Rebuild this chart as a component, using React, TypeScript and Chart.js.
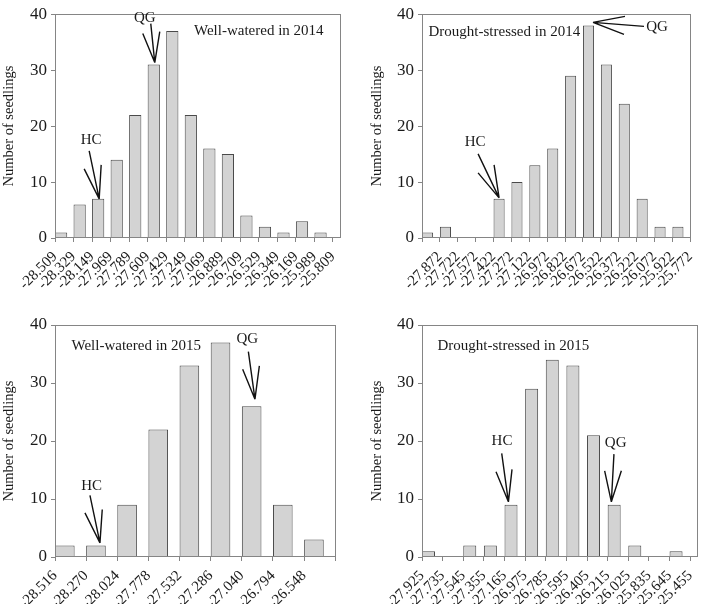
import React, { useEffect, useRef } from "react";
import { Chart, registerables } from "chart.js";

Chart.register(...registerables);

const FONT = "'Liberation Serif', 'Times New Roman', serif";
const TEXT = "#1a1a1a";
const FRAME = "#858585";
const BAR_FILL = "#d3d3d3";
const BAR_EDGE = "#4a4a4a";

// ---------- data ----------
const ww2014Ticks = ["-28.509", "-28.329", "-28.149", "-27.969", "-27.789", "-27.609", "-27.429", "-27.249", "-27.069", "-26.889", "-26.709", "-26.529", "-26.349", "-26.169", "-25.989", "-25.809"];
const ww2014Counts = [1, 6, 7, 14, 22, 31, 37, 22, 16, 15, 4, 2, 1, 3, 1];

const ds2014Ticks = ["-27.872", "-27.722", "-27.572", "-27.422", "-27.272", "-27.122", "-26.972", "-26.822", "-26.672", "-26.522", "-26.372", "-26.222", "-26.072", "-25.922", "-25.772"];
const ds2014Counts = [1, 2, 0, 0, 7, 10, 13, 16, 29, 38, 31, 24, 7, 2, 2];

const ww2015Ticks = ["-28.516", "-28.270", "-28.024", "-27.778", "-27.532", "-27.286", "-27.040", "-26.794", "-26.548"];
const ww2015Counts = [2, 2, 9, 22, 33, 37, 26, 9, 3];

const ds2015Ticks = ["-27.925", "-27.735", "-27.545", "-27.355", "-27.165", "-26.975", "-26.785", "-26.595", "-26.405", "-26.215", "-26.025", "-25.835", "-25.645", "-25.455"];
const ds2015Counts = [1, 0, 2, 2, 9, 29, 34, 33, 21, 9, 2, 0, 1];

const yTicks = [0, 10, 20, 30, 40];
const yTitle = "Number of seedlings";

// ---------- layout / annotation config ----------
type Pt = [number, number];
type Ann = { text: string; bar: number; tip: Pt; tail: Pt; head1: Pt; head2: Pt; label: Pt };
type PanelCfg = {
  title: string;
  titlePos: Pt;
  counts: number[];
  tickLabels: string[];
  labelStart: number;
  xMax: number;
  barPct: number;
  box: { left: number; top: number; width: number; height: number };
  pad: { left: number; right: number; top: number };
  yWidth: number;
  xHeight: number;
  anns: Ann[];
};

const panels: PanelCfg[] = [
  {
    title: "Well-watered in 2014",
    titlePos: [139, 16.5],
    counts: ww2014Counts,
    tickLabels: ww2014Ticks,
    labelStart: 0,
    xMax: 15.38,
    barPct: 0.66,
    box: { left: 0, top: 0, width: 354, height: 302 },
    pad: { left: 0, right: 14, top: 7 },
    yWidth: 55,
    xHeight: 64,
    anns: [
      { text: "HC", bar: 2, tip: [1, 0], tail: [-10, -48], head1: [-15, -30], head2: [2, -34], label: [-8, -59] },
      { text: "QG", bar: 5, tip: [1, -2], tail: [-4, -39], head1: [-12, -29], head2: [5, -31], label: [-10, -44] },
    ],
  },
  {
    title: "Drought-stressed in 2014",
    titlePos: [6.5, 18],
    counts: ds2014Counts,
    tickLabels: ds2014Ticks,
    labelStart: 1,
    xMax: 15,
    barPct: 0.62,
    box: { left: 354, top: 0, width: 355, height: 302 },
    pad: { left: 14, right: 6, top: 7 },
    yWidth: 54,
    xHeight: 64,
    anns: [
      { text: "HC", bar: 4, tip: [0, -1], tail: [-21, -44], head1: [-21, -25], head2: [-5, -33], label: [-24, -56] },
      { text: "QG", bar: 9, tip: [4.5, -3], tail: [51, 4], head1: [32, -6], head2: [31, 12], label: [64, 5] },
    ],
  },
  {
    title: "Well-watered in 2015",
    titlePos: [16.5, 21.5],
    counts: ww2015Counts,
    tickLabels: ww2015Ticks,
    labelStart: 0,
    xMax: 9,
    barPct: 0.63,
    box: { left: 0, top: 302, width: 354, height: 302 },
    pad: { left: 0, right: 14, top: 23 },
    yWidth: 55,
    xHeight: 47,
    anns: [
      { text: "HC", bar: 1, tip: [4, -2.5], tail: [-10, -47.5], head1: [-15, -30], head2: [2.3, -33.4], label: [-8.3, -56.7] },
      { text: "QG", bar: 6, tip: [3.3, -7], tail: [-6.6, -47.6], head1: [-12.3, -30], head2: [4.4, -33.3], label: [-7.6, -60] },
    ],
  },
  {
    title: "Drought-stressed in 2015",
    titlePos: [15.5, 21.5],
    counts: ds2015Counts,
    tickLabels: ds2015Ticks,
    labelStart: 0,
    xMax: 13.33,
    barPct: 0.63,
    box: { left: 354, top: 302, width: 355, height: 302 },
    pad: { left: 14, right: 4, top: 23 },
    yWidth: 54,
    xHeight: 47,
    anns: [
      { text: "HC", bar: 4, tip: [-2.6, -3], tail: [-6.7, -48.4], head1: [-12.4, -30], head2: [3.6, -32.4], label: [-6.4, -60.7] },
      { text: "QG", bar: 9, tip: [-2.8, -3], tail: [2.6, -47.7], head1: [-6.7, -31], head2: [10, -31], label: [4.3, -59] },
    ],
  },
];

// ---------- plugin ----------
const panelPlugin = {
  id: "panelDecor",
  afterDraw(chart: any, _args: any, opts: any) {
    const cfg: PanelCfg = opts.cfg;
    if (!cfg) return;
    const { ctx, chartArea: a } = chart;
    ctx.save();
    // frame
    ctx.strokeStyle = FRAME;
    ctx.lineWidth = 1;
    ctx.strokeRect(Math.round(a.left) + 0.5, Math.round(a.top) + 0.5, Math.round(a.right - a.left), Math.round(a.bottom - a.top) - 1);
    // title
    ctx.fillStyle = TEXT;
    ctx.font = `15px ${FONT}`;
    ctx.textAlign = "left";
    ctx.textBaseline = "middle";
    ctx.fillText(cfg.title, a.left + cfg.titlePos[0], a.top + cfg.titlePos[1]);
    // arrows
    const meta = chart.getDatasetMeta(0);
    ctx.strokeStyle = "#111";
    ctx.lineWidth = 1.4;
    for (const an of cfg.anns) {
      const el = meta.data[an.bar];
      const tx = el.x + an.tip[0];
      const ty = el.y + an.tip[1];
      ctx.beginPath();
      for (const p of [an.tail, an.head1, an.head2]) {
        ctx.moveTo(tx, ty);
        ctx.lineTo(tx + p[0], ty + p[1]);
      }
      ctx.stroke();
      ctx.textAlign = "center";
      ctx.fillText(an.text, tx + an.label[0], ty + an.label[1]);
    }
    ctx.restore();
  },
};

function Panel({ cfg }: { cfg: PanelCfg }) {
  const ref = useRef<HTMLCanvasElement | null>(null);
  useEffect(() => {
    if (!ref.current) return;
    const nTicks = cfg.counts.length + 1;
    const chart = new Chart(ref.current, {
      type: "bar",
      data: {
        datasets: [
          {
            data: cfg.counts.map((c, i) => ({ x: i + cfg.barPct / 2, y: c })),
            backgroundColor: BAR_FILL,
            borderColor: BAR_EDGE,
            borderWidth: 1,
            categoryPercentage: 1,
            barPercentage: cfg.barPct,
          } as any,
        ],
      },
      options: {
        responsive: false,
        animation: false,
        events: [],
        layout: { padding: { left: cfg.pad.left, right: cfg.pad.right, top: cfg.pad.top, bottom: 0 } },
        plugins: {
          legend: { display: false },
          tooltip: { enabled: false },
          panelDecor: { cfg },
        } as any,
        scales: {
          x: {
            type: "linear",
            min: 0,
            max: cfg.xMax,
            offset: false,
            afterBuildTicks: (axis: any) => {
              axis.ticks = Array.from({ length: nTicks }, (_, i) => ({ value: i }));
            },
            afterFit: (s: any) => {
              s.height = cfg.xHeight;
            },
            ticks: {
              autoSkip: false,
              minRotation: 45,
              maxRotation: 45,
              padding: 6,
              color: TEXT,
              font: { family: FONT, size: 15 },
              callback: (v: any) => {
                const k = Math.round(Number(v)) - cfg.labelStart;
                return cfg.tickLabels[k] ?? "";
              },
            },
            grid: { display: true, drawOnChartArea: false, drawTicks: true, tickLength: 4, color: FRAME, offset: false },
            border: { display: false },
          } as any,
          y: {
            type: "linear",
            min: 0,
            max: 40,
            afterBuildTicks: (axis: any) => {
              axis.ticks = yTicks.map((v) => ({ value: v }));
            },
            afterFit: (s: any) => {
              s.width = cfg.yWidth;
            },
            ticks: { padding: 4, color: TEXT, font: { family: FONT, size: 17 } },
            grid: { display: true, drawOnChartArea: false, drawTicks: true, tickLength: 4, color: FRAME },
            border: { display: false },
            title: { display: true, text: yTitle, color: TEXT, font: { family: FONT, size: 14.5 }, padding: 0 },
          } as any,
        },
      },
      plugins: [panelPlugin as any],
    });
    return () => chart.destroy();
  }, [cfg]);
  return (
    <canvas
      ref={ref}
      width={cfg.box.width}
      height={cfg.box.height}
      style={{ position: "absolute", left: cfg.box.left, top: cfg.box.top, width: cfg.box.width, height: cfg.box.height }}
    />
  );
}

export default function App() {
  return (
    <div style={{ position: "absolute", left: 0, top: 0, width: 709, height: 604, background: "#fff", overflow: "hidden" }}>
      {panels.map((p, i) => (
        <Panel key={i} cfg={p} />
      ))}
    </div>
  );
}
